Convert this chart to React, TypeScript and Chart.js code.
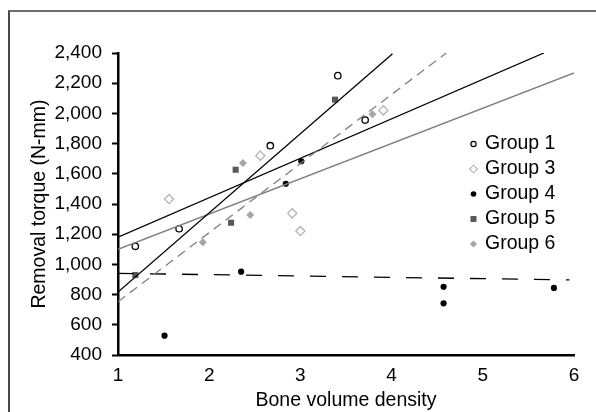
import React, { useEffect, useRef } from 'react';
import { Chart, registerables } from 'chart.js';

Chart.register(...registerables);

// ---- Data ----
const xTickValues = [1, 2, 3, 4, 5, 6];
const yTickValues = [400, 600, 800, 1000, 1200, 1400, 1600, 1800, 2000, 2200, 2400];

const groupNames = ['Group 1', 'Group 3', 'Group 4', 'Group 5', 'Group 6'];

const group1X = [1.19, 1.67, 2.67, 3.41, 3.71];
const group1Y = [1120, 1236, 1786, 2250, 1956];
const group3X = [1.56, 2.56, 2.91, 3.0, 3.91];
const group3Y = [1433, 1720, 1338, 1221, 2020];
const group4X = [1.51, 2.35, 2.84, 3.01, 4.57, 4.57, 5.78];
const group4Y = [528, 952, 1534, 1683, 852, 742, 844];
const group5X = [1.19, 2.29, 2.24, 3.38];
const group5Y = [930, 1627, 1276, 2091];
const group6X = [1.93, 2.37, 2.45, 3.79];
const group6Y = [1146, 1672, 1327, 1994];

// trendlines (endpoints)
const trendSteepX = [1, 4.01];
const trendSteepY = [817, 2395];
const trendGrayDashX = [1, 4.6];
const trendGrayDashY = [753, 2400];
const trendBlackX = [1, 5.67];
const trendBlackY = [1180, 2400];
const trendGrayX = [1, 6];
const trendGrayY = [1100, 2268];
const trendFlatX = [1, 5.95];
const trendFlatY = [941, 897];

const pts = (xs: number[], ys: number[]) => xs.map((x, i) => ({ x, y: ys[i] }));

const FONT = "'Liberation Sans', Arial, sans-serif";

const legendPlugin = {
  id: 'customLegend',
  afterDraw(chart: any) {
    const ctx = chart.ctx as CanvasRenderingContext2D;
    const mx = 473.5;
    const tx = 485;
    const y0 = 144;
    const dy = 25;
    ctx.save();
    ctx.font = `19.5px ${FONT}`;
    ctx.textBaseline = 'middle';
    ctx.textAlign = 'left';
    groupNames.forEach((name, i) => {
      const y = y0 + i * dy;
      ctx.beginPath();
      if (i === 0) {
        ctx.arc(mx, y, 2.6, 0, Math.PI * 2);
        ctx.fillStyle = '#fff';
        ctx.fill();
        ctx.lineWidth = 1.2;
        ctx.strokeStyle = '#000';
        ctx.stroke();
      } else if (i === 1) {
        const r = 3.8;
        ctx.moveTo(mx, y - r);
        ctx.lineTo(mx + r, y);
        ctx.lineTo(mx, y + r);
        ctx.lineTo(mx - r, y);
        ctx.closePath();
        ctx.fillStyle = '#fff';
        ctx.fill();
        ctx.lineWidth = 1.1;
        ctx.strokeStyle = '#b3b3b3';
        ctx.stroke();
      } else if (i === 2) {
        ctx.arc(mx, y, 2.8, 0, Math.PI * 2);
        ctx.fillStyle = '#000';
        ctx.fill();
      } else if (i === 3) {
        ctx.rect(mx - 3, y - 3, 6, 6);
        ctx.fillStyle = '#595959';
        ctx.fill();
      } else {
        const r = 3.6;
        ctx.moveTo(mx, y - r);
        ctx.lineTo(mx + r, y);
        ctx.lineTo(mx, y + r);
        ctx.lineTo(mx - r, y);
        ctx.closePath();
        ctx.fillStyle = '#a6a6a6';
        ctx.fill();
      }
      ctx.fillStyle = '#000';
      ctx.fillText(name, tx, y);
    });
    ctx.restore();
  },
};

export default function App() {
  const canvasRef = useRef<HTMLCanvasElement | null>(null);

  useEffect(() => {
    const canvas = canvasRef.current;
    if (!canvas) return;
    const lineDs = (xs: number[], ys: number[], color: string, dash: number[]) => ({
      data: pts(xs, ys),
      showLine: true,
      borderColor: color,
      borderWidth: 1.3,
      borderDash: dash,
      pointRadius: 0,
      pointHoverRadius: 0,
      fill: false,
      order: 1,
    });
    const chart = new Chart(canvas, {
      type: 'scatter',
      data: {
        datasets: [
          {
            label: groupNames[0],
            data: pts(group1X, group1Y),
            pointStyle: 'circle',
            pointRadius: 3.2,
            borderWidth: 1.3,
            borderColor: '#000',
            backgroundColor: '#fff',
            order: 2,
          },
          {
            label: groupNames[1],
            data: pts(group3X, group3Y),
            pointStyle: 'rectRot',
            pointRadius: 4.6,
            borderWidth: 1.3,
            borderColor: '#b3b3b3',
            backgroundColor: '#fff',
            order: 2,
          },
          {
            label: groupNames[2],
            data: pts(group4X, group4Y),
            pointStyle: 'circle',
            pointRadius: 3.1,
            borderWidth: 0,
            borderColor: '#000',
            backgroundColor: '#000',
            order: 2,
          },
          {
            label: groupNames[3],
            data: pts(group5X, group5Y),
            pointStyle: 'rect',
            pointRadius: 4.3,
            borderWidth: 0,
            borderColor: '#595959',
            backgroundColor: '#595959',
            order: 2,
          },
          {
            label: groupNames[4],
            data: pts(group6X, group6Y),
            pointStyle: 'rectRot',
            pointRadius: 4,
            borderWidth: 0,
            borderColor: '#a6a6a6',
            backgroundColor: '#a6a6a6',
            order: 2,
          },
          lineDs(trendSteepX, trendSteepY, '#000', []),
          lineDs(trendGrayDashX, trendGrayDashY, '#808080', [9, 6]),
          lineDs(trendBlackX, trendBlackY, '#000', []),
          lineDs(trendGrayX, trendGrayY, '#808080', []),
          lineDs(trendFlatX, trendFlatY, '#000', [16, 16]),
        ] as any,
      },
      options: {
        animation: false,
        responsive: false,
        maintainAspectRatio: false,
        layout: { padding: { left: 0, top: 53, right: 22, bottom: 0 } },
        plugins: {
          legend: { display: false },
          tooltip: { enabled: false },
        },
        scales: {
          x: {
            type: 'linear',
            min: 1,
            max: 6,
            afterBuildTicks: (scale: any) => {
              scale.ticks = xTickValues.map((v) => ({ value: v }));
            },
            afterFit: (scale: any) => {
              scale.height = 57;
            },
            grid: { display: false, drawTicks: false },
            border: { display: true, color: '#000', width: 2.5 },
            ticks: {
              color: '#000',
              font: { family: FONT, size: 19 },
              padding: 9,
              maxRotation: 0,
              callback: (v: any) => String(v),
            },
            title: {
              display: true,
              text: 'Bone volume density',
              color: '#000',
              font: { family: FONT, size: 19.5 },
              padding: { top: 0, bottom: 0 },
            },
          },
          y: {
            type: 'linear',
            min: 400,
            max: 2400,
            afterBuildTicks: (scale: any) => {
              scale.ticks = yTickValues.map((v) => ({ value: v }));
            },
            afterFit: (scale: any) => {
              scale.width = 118;
            },
            grid: {
              display: true,
              drawOnChartArea: false,
              drawTicks: true,
              tickLength: 6,
              tickWidth: 2,
              tickColor: '#000',
            },
            border: { display: true, color: '#000', width: 2.5 },
            ticks: {
              color: '#000',
              font: { family: FONT, size: 19 },
              padding: 10,
              callback: (v: any) => Number(v).toLocaleString('en-US'),
            },
            title: {
              display: true,
              text: 'Removal torque (N-mm)',
              color: '#000',
              font: { family: FONT, size: 19.5 },
              padding: { top: 28, bottom: 0 },
            },
          },
        },
      },
      plugins: [legendPlugin],
    });
    return () => chart.destroy();
  }, []);

  return (
    <div style={{ position: 'fixed', left: 0, top: 0, width: 596, height: 412, background: '#fff' }}>
      <div
        style={{
          position: 'absolute',
          left: 8,
          top: 10,
          width: 588,
          height: 402,
          borderTop: '2px solid #6e6e6e',
          borderLeft: '2px solid #4a4a4a',
          boxSizing: 'border-box',
        }}
      />
      <canvas
        ref={canvasRef}
        width={596}
        height={412}
        style={{ position: 'absolute', left: 0, top: 0, width: 596, height: 412 }}
      />
    </div>
  );
}
